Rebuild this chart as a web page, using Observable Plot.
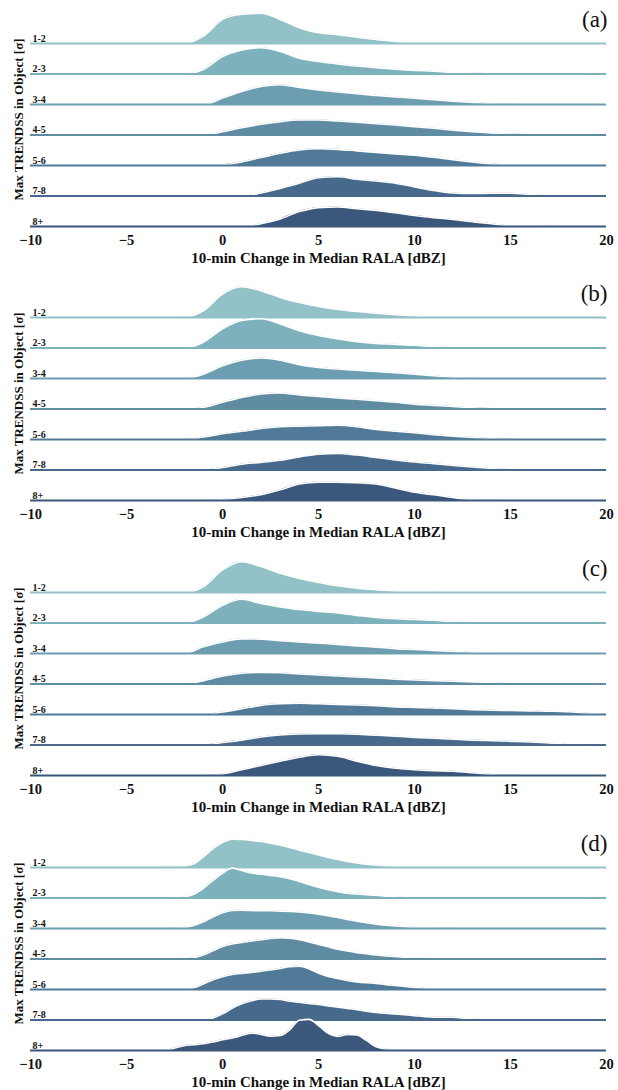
<!DOCTYPE html>
<html>
<head>
<meta charset="utf-8">
<script src="https://cdn.jsdelivr.net/npm/d3@7"></script>
<script src="https://cdn.jsdelivr.net/npm/@observablehq/plot@0.6"></script>
<style>
  html, body { margin: 0; padding: 0; background: #fff; }
  #chart { width: 618px; }
  #chart svg { display: block; }
</style>
</head>
<body>
<div id="chart"></div>
<script>
// ---- data ----
const rows = ["1-2", "2-3", "3-4", "4-5", "5-6", "7-8", "8+"];
const rowColors = ["#92c1c7", "#7db2bc", "#6c9db0", "#5f8ba3", "#517a99", "#46698c", "#3b577c"];
const xTicks = [-10, -5, 0, 5, 10, 15, 20];
const panelLabels = ["(a)", "(b)", "(c)", "(d)"];
const xLabel = "10-min Change in Median RALA [dBZ]";
const yLabel = "Max TRENDSS in Object [σ]";

// x grid (dBZ) for panels a-c
const gridABC = [-3, -2, -1, 0, 1, 2, 3, 4, 5, 6, 7, 8, 9, 10, 11, 12, 13, 14, 15, 16, 17, 18, 19, 20];
// x grid (dBZ) for panel d
const gridD = [-5, -4.5, -4, -3.5, -3, -2.5, -2, -1.5, -1, -0.5, 0, 0.5, 1, 1.5, 2, 2.5, 3, 3.5, 4, 4.5,
  5, 5.5, 6, 6.5, 7, 7.5, 8, 8.5, 9, 9.5, 10, 10.5, 11, 11.5, 12, 12.5, 13, 13.5, 14];

// relative density (height in row units), one list per row
const densA = [
  [0, 0, 0.24, 0.79, 0.96, 0.99, 0.79, 0.52, 0.35, 0.29, 0.21, 0.13, 0.07, 0.02, 0.01, 0, 0, 0, 0, 0, 0, 0, 0, 0],
  [0, 0, 0.15, 0.57, 0.79, 0.86, 0.74, 0.52, 0.41, 0.33, 0.26, 0.21, 0.16, 0.12, 0.09, 0.05, 0.03, 0.01, 0, 0, 0, 0, 0, 0],
  [0, 0, 0, 0.21, 0.43, 0.59, 0.65, 0.56, 0.48, 0.41, 0.35, 0.30, 0.25, 0.21, 0.16, 0.11, 0.07, 0.03, 0.01, 0, 0, 0, 0, 0],
  [0, 0, 0, 0.11, 0.24, 0.35, 0.44, 0.49, 0.49, 0.46, 0.42, 0.37, 0.33, 0.27, 0.22, 0.16, 0.11, 0.07, 0.03, 0.01, 0, 0, 0, 0],
  [0, 0, 0, 0.02, 0.12, 0.26, 0.40, 0.51, 0.55, 0.53, 0.48, 0.43, 0.38, 0.34, 0.27, 0.19, 0.12, 0.05, 0.02, 0, 0, 0, 0, 0],
  [0, 0, 0, 0, 0, 0.10, 0.25, 0.42, 0.60, 0.63, 0.55, 0.49, 0.42, 0.30, 0.18, 0.10, 0.08, 0.09, 0.09, 0.05, 0.01, 0, 0, 0],
  [0, 0, 0, 0, 0, 0.09, 0.25, 0.49, 0.62, 0.64, 0.58, 0.53, 0.45, 0.36, 0.29, 0.23, 0.16, 0.09, 0.03, 0.03, 0.01, 0, 0, 0]
];
const densB = [
  [0, 0.01, 0.22, 0.77, 1.01, 0.88, 0.66, 0.49, 0.36, 0.26, 0.20, 0.14, 0.09, 0.05, 0.02, 0, 0, 0, 0, 0, 0, 0, 0, 0],
  [0, 0, 0.19, 0.63, 0.90, 0.96, 0.79, 0.57, 0.41, 0.30, 0.21, 0.15, 0.12, 0.09, 0.04, 0.01, 0, 0, 0, 0, 0, 0, 0, 0],
  [0, 0, 0.14, 0.42, 0.60, 0.67, 0.60, 0.45, 0.36, 0.31, 0.27, 0.23, 0.19, 0.14, 0.09, 0.04, 0.01, 0, 0, 0, 0, 0, 0, 0],
  [0, 0, 0.05, 0.22, 0.38, 0.49, 0.53, 0.46, 0.41, 0.36, 0.32, 0.27, 0.22, 0.16, 0.12, 0.08, 0.04, 0.02, 0.01, 0, 0, 0, 0, 0],
  [0, 0, 0.08, 0.19, 0.27, 0.36, 0.42, 0.44, 0.45, 0.47, 0.42, 0.33, 0.27, 0.22, 0.16, 0.11, 0.07, 0.03, 0.01, 0, 0, 0, 0, 0],
  [0, 0, 0, 0.08, 0.19, 0.25, 0.32, 0.43, 0.52, 0.54, 0.49, 0.41, 0.33, 0.26, 0.21, 0.15, 0.10, 0.05, 0.02, 0, 0, 0, 0, 0],
  [0, 0, 0, 0.03, 0.10, 0.19, 0.35, 0.54, 0.60, 0.60, 0.58, 0.54, 0.41, 0.27, 0.19, 0.10, 0.03, 0.01, 0, 0, 0, 0, 0, 0]
];
const densC = [
  [0, 0, 0.19, 0.74, 1.01, 0.85, 0.63, 0.46, 0.33, 0.22, 0.14, 0.09, 0.04, 0.02, 0.01, 0, 0, 0, 0, 0, 0, 0, 0, 0],
  [0, 0, 0.20, 0.58, 0.78, 0.64, 0.53, 0.44, 0.38, 0.33, 0.25, 0.18, 0.14, 0.12, 0.09, 0.04, 0.02, 0.01, 0, 0, 0, 0, 0, 0],
  [0, 0, 0.22, 0.38, 0.48, 0.47, 0.42, 0.38, 0.34, 0.30, 0.25, 0.21, 0.16, 0.13, 0.10, 0.07, 0.04, 0.02, 0.01, 0, 0, 0, 0, 0],
  [0, 0.01, 0.11, 0.26, 0.35, 0.38, 0.37, 0.33, 0.30, 0.26, 0.23, 0.20, 0.16, 0.13, 0.11, 0.09, 0.07, 0.04, 0.02, 0.01, 0, 0, 0, 0],
  [0, 0, 0, 0.08, 0.19, 0.30, 0.35, 0.37, 0.35, 0.33, 0.31, 0.29, 0.25, 0.23, 0.21, 0.19, 0.16, 0.14, 0.13, 0.12, 0.11, 0.09, 0.04, 0.01],
  [0, 0, 0, 0.08, 0.16, 0.26, 0.33, 0.36, 0.37, 0.37, 0.35, 0.32, 0.29, 0.25, 0.22, 0.19, 0.16, 0.14, 0.12, 0.10, 0.07, 0.02, 0.01, 0],
  [0, 0, 0, 0.05, 0.19, 0.33, 0.47, 0.60, 0.68, 0.63, 0.47, 0.33, 0.24, 0.19, 0.16, 0.14, 0.09, 0.03, 0.01, 0, 0, 0, 0, 0]
];
const densD = [
  [0, 0, 0.01, 0.03, 0.04, 0.04, 0.05, 0.12, 0.35, 0.62, 0.82, 0.93, 0.92, 0.89, 0.85, 0.80, 0.74, 0.66, 0.57, 0.49,
   0.41, 0.33, 0.26, 0.20, 0.15, 0.11, 0.08, 0.05, 0.03, 0.02, 0.01, 0, 0, 0, 0, 0, 0, 0, 0],
  [0, 0, 0, 0, 0, 0, 0.03, 0.12, 0.32, 0.58, 0.81, 0.98, 0.90, 0.82, 0.78, 0.74, 0.70, 0.63, 0.54, 0.44,
   0.35, 0.27, 0.21, 0.16, 0.13, 0.11, 0.09, 0.06, 0.04, 0.02, 0.01, 0, 0, 0, 0, 0, 0, 0, 0],
  [0, 0, 0, 0, 0, 0.01, 0.03, 0.10, 0.22, 0.38, 0.52, 0.59, 0.60, 0.59, 0.58, 0.58, 0.57, 0.56, 0.54, 0.51,
   0.47, 0.42, 0.36, 0.30, 0.24, 0.19, 0.14, 0.11, 0.08, 0.06, 0.04, 0.03, 0.02, 0.01, 0.01, 0, 0, 0, 0],
  [0, 0, 0, 0, 0, 0, 0, 0.04, 0.13, 0.27, 0.41, 0.49, 0.54, 0.59, 0.63, 0.67, 0.70, 0.68, 0.63, 0.56,
   0.48, 0.40, 0.32, 0.26, 0.21, 0.17, 0.13, 0.10, 0.08, 0.05, 0.03, 0.02, 0.01, 0, 0, 0, 0, 0, 0],
  [0, 0, 0, 0, 0, 0, 0, 0.06, 0.18, 0.32, 0.42, 0.49, 0.53, 0.56, 0.60, 0.64, 0.69, 0.75, 0.76, 0.68,
   0.53, 0.43, 0.36, 0.30, 0.25, 0.22, 0.20, 0.16, 0.13, 0.10, 0.07, 0.04, 0.02, 0.01, 0, 0, 0, 0, 0],
  [0, 0, 0, 0, 0, 0, 0, 0, 0, 0.07, 0.20, 0.38, 0.53, 0.63, 0.69, 0.69, 0.67, 0.62, 0.58, 0.54,
   0.51, 0.46, 0.42, 0.38, 0.34, 0.29, 0.25, 0.22, 0.20, 0.17, 0.14, 0.11, 0.09, 0.09, 0.09, 0.06, 0.03, 0.01, 0],
  [0, 0, 0, 0, 0, 0.08, 0.16, 0.19, 0.22, 0.28, 0.35, 0.41, 0.49, 0.57, 0.53, 0.47, 0.49, 0.68, 0.99, 1.02,
   0.82, 0.56, 0.46, 0.53, 0.51, 0.33, 0.12, 0.05, 0.02, 0.01, 0, 0, 0, 0, 0, 0, 0, 0, 0]
];

const panels = [
  {label: panelLabels[0], grid: gridABC, dens: densA},
  {label: panelLabels[1], grid: gridABC, dens: densB},
  {label: panelLabels[2], grid: gridABC, dens: densC},
  {label: panelLabels[3], grid: gridD, dens: densD}
];

// ---- drawing ----
const serif = "'Liberation Serif', 'Times New Roman', serif";
const heights = [274, 275, 275, 266];

function ridgePanel(p, h) {
  const n = rows.length;
  const marks = [];
  rows.forEach((r, i) => {
    const base = n - 1 - i;
    const data = p.grid.map((x, j) => ({x, base, top: base + p.dens[i][j]}));
    marks.push(Plot.areaY(data, {x: "x", y1: "base", y2: "top", fill: rowColors[i], curve: "monotone-x"}));
    marks.push(Plot.line(data, {x: "x", y: "top", stroke: "white", strokeWidth: 1.6, curve: "monotone-x"}));
    marks.push(Plot.ruleY([base], {stroke: rowColors[i], strokeWidth: 2.2}));
    marks.push(Plot.text([r], {x: -10, y: base, text: d => d, textAnchor: "start", lineAnchor: "bottom",
      dx: 2, dy: -2, fontSize: 10, fontWeight: "bold", fill: "#111"}));
  });
  marks.push(Plot.axisX({ticks: xTicks, tickSize: 0, tickPadding: 8, fontSize: 14.5, fontWeight: "bold", label: null}));
  marks.push(Plot.text([xLabel], {frameAnchor: "bottom", textAnchor: "middle", lineAnchor: "middle",
    dy: 32, fontSize: 15, fontWeight: "bold", fill: "#111"}));
  marks.push(Plot.text([p.label], {frameAnchor: "top-right", textAnchor: "end", lineAnchor: "middle",
    dy: 19, dx: 1, fontSize: 23, fill: "#111"}));
  marks.push(Plot.text([yLabel], {frameAnchor: "top-left", textAnchor: "middle", lineAnchor: "middle",
    rotate: -90, dx: -12, dy: 119, fontSize: 13, fontWeight: "bold", fill: "#111"}));
  return Plot.plot({
    width: 618,
    height: h,
    marginLeft: 30,
    marginRight: 12,
    marginTop: 0,
    marginBottom: h - 226,
    style: {fontFamily: serif, color: "#111", background: "white", overflow: "visible"},
    x: {domain: [-10, 20]},
    y: {domain: [0, n - 1], range: [226, 43], axis: null},
    marks
  });
}

const chart = document.getElementById("chart");
panels.forEach((p, k) => chart.appendChild(ridgePanel(p, heights[k])));
</script>
</body>
</html>
